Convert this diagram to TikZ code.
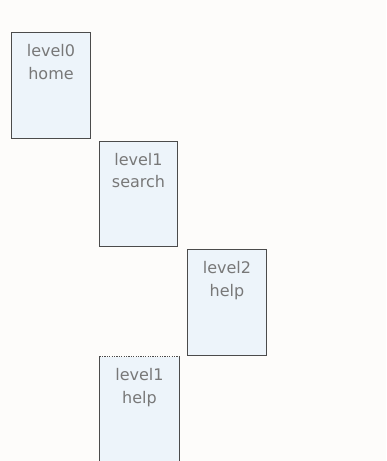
\documentclass[tikz,border=0pt]{standalone}
\usepackage{fontspec}
\setsansfont{DejaVu Sans}
\usetikzlibrary{positioning}
\definecolor{pagebg}{RGB}{253,252,250}
\definecolor{screenfill}{RGB}{237,244,250}
\definecolor{screenline}{RGB}{75,75,75}
\definecolor{screentext}{RGB}{120,120,120}
\tikzset{
  screen/.style={draw=screenline, fill=screenfill, line width=0.8pt,
    minimum width=59pt, minimum height=79pt, inner sep=0pt},
  title/.style={align=center, text=screentext, inner sep=2pt,
    font=\sffamily\fontsize{12}{17}\selectfont}
}

\begin{document}
\begin{tikzpicture}[x=0.75pt, y=-0.75pt]
		% --- page ---
		\useasboundingbox (0,0) rectangle (386,461);
		\fill[pagebg] (0,0) rectangle (386,461);
		\clip (0,0) rectangle (386,461);
		
		% --- screens ---
		\node[screen] (home)   at (51,85.5)  {};
		\node[screen] (search) at (138.5,194) {};
		\node[screen] (help)   at (227,302.5) {};
		\node[screen, draw=none] (back) at (139.5,409.5) {};
		
		% open top edge of the last screen
		\draw[screenline, line width=0.8pt, densely dotted] (back.north west) -- (back.north east);
		\draw[screenline, line width=0.8pt] (back.north west) -- (back.south west);
		\draw[screenline, line width=0.8pt] (back.north east) -- (back.south east);
		
		% --- labels ---
		\node[title, below=7pt of home.north]   (homet)   {level0\\home};
		\node[title, below=7pt of search.north] (searcht) {level1\\search};
		\node[title, below=7pt of help.north]   (helpt)   {level2\\help};
		\node[title, below=7pt of back.north]   (backt)   {level1\\help};
		
	\end{tikzpicture}
\end{document}
